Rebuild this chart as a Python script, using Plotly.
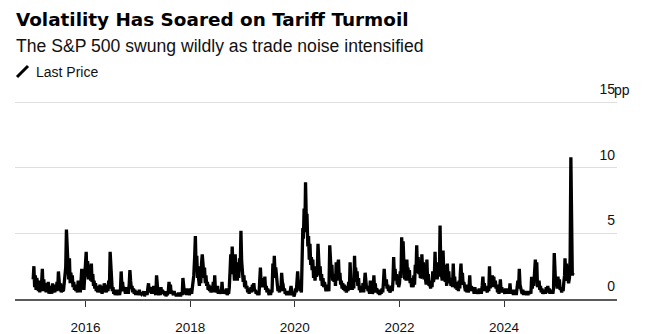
import pandas as pd
import plotly.graph_objects as go

# Values: S&P 500 swing (pp), ~6 readings per month
day_offsets = [0, 5, 10, 15, 20, 25]

v2015 = [1.5, 2.5, 0.9, 1.8, 0.7, 1.6,  1.2, 0.6, 1.4, 0.5, 1.0, 0.6,  1.3, 2.3, 0.7, 1.5, 0.6, 1.2,
         0.5, 1.1, 0.6, 1.3, 0.4, 0.9,  0.6, 1.0, 0.4, 1.2, 0.5, 0.8,  0.5, 1.1, 0.6, 1.3, 0.7, 2.1,
         1.4, 0.6, 1.2, 0.5, 0.9, 0.6,  0.7, 1.2, 1.6, 2.4, 5.3, 3.2,  2.6, 1.5, 3.1, 1.2, 2.0, 1.4,
         1.8, 0.9, 1.3, 0.7, 1.1, 0.6,  0.9, 0.5, 1.4, 0.6, 1.0, 0.5,  1.2, 2.3, 0.9, 1.8, 0.7, 1.6]
v2016 = [2.4, 3.6, 1.7, 2.9, 1.5, 2.6,  2.2, 1.4, 2.7, 1.3, 1.9, 1.0,  1.4, 0.8, 1.2, 0.6, 1.0, 0.5,
         0.9, 0.5, 1.1, 0.6, 0.8, 0.4,  1.0, 0.5, 1.2, 0.6, 0.9, 0.5,  1.1, 0.6, 1.4, 0.8, 3.6, 2.2,
         1.2, 0.6, 0.9, 0.4, 0.7, 0.3,  0.6, 0.3, 0.7, 0.3, 0.5, 0.3,  0.7, 2.1, 1.0, 1.3, 0.6, 0.9,
         0.7, 0.4, 0.9, 0.5, 0.8, 0.4,  1.1, 2.2, 1.4, 0.8, 1.0, 0.5,  0.8, 0.4, 0.7, 0.3, 0.6, 0.3]
v2017 = [0.6, 0.3, 0.7, 0.3, 0.5, 0.4,  0.5, 0.3, 0.6, 0.2, 0.5, 0.3,  0.6, 0.3, 0.8, 1.2, 0.5, 0.9,
         0.7, 0.4, 0.9, 0.5, 1.0, 0.4,  0.5, 0.3, 1.8, 0.6, 0.5, 0.3,  0.6, 0.3, 0.9, 0.4, 0.7, 0.5,
         0.5, 0.3, 0.6, 0.2, 0.5, 0.3,  0.6, 1.3, 0.7, 1.1, 0.4, 0.6,  0.5, 0.3, 0.6, 0.3, 0.4, 0.2,
         0.4, 0.2, 0.5, 0.3, 0.4, 0.2,  0.5, 0.3, 1.6, 0.6, 0.5, 0.4,  0.6, 0.3, 0.8, 0.4, 0.5, 0.3]
v2018 = [0.5, 0.8, 0.4, 0.9, 1.3, 1.8,  3.2, 4.8, 2.4, 3.3, 1.6, 2.5,  1.5, 1.0, 2.0, 1.2, 2.7, 3.4,
         2.6, 1.6, 2.4, 1.2, 1.8, 1.0,  1.3, 0.7, 1.1, 0.6, 0.9, 0.5,  1.0, 0.6, 1.3, 0.5, 1.8, 0.7,
         0.8, 0.5, 1.0, 0.4, 0.7, 0.4,  0.6, 0.4, 1.3, 0.5, 0.7, 0.4,  0.6, 0.4, 0.8, 0.3, 0.5, 0.4,
         0.9, 2.1, 3.4, 1.9, 4.0, 2.6,  2.3, 1.4, 3.4, 1.7, 2.5, 1.4,  2.8, 1.6, 3.1, 2.2, 5.2, 2.9]
v2019 = [2.0, 1.3, 1.8, 0.9, 1.4, 0.8,  1.0, 0.5, 0.8, 0.4, 0.7, 0.5,  0.9, 0.5, 1.1, 0.6, 1.2, 0.6,
         0.7, 0.4, 0.6, 0.3, 0.5, 0.3,  1.4, 2.4, 1.2, 1.6, 0.9, 1.3,  1.0, 1.7, 0.7, 1.0, 0.5, 0.8,
         0.5, 0.3, 0.6, 0.3, 0.7, 0.5,  2.7, 1.6, 3.3, 1.9, 2.4, 1.3,  1.1, 0.6, 0.9, 0.5, 1.0, 0.6,
         2.0, 1.3, 1.1, 0.6, 0.8, 0.4,  0.5, 0.3, 0.6, 0.3, 0.5, 0.3,  0.7, 1.0, 0.5, 0.3, 0.4, 0.2]
v2020 = [0.4, 0.8, 0.5, 1.1, 2.1, 1.2,  1.4, 0.6, 0.9, 0.5, 2.4, 5.4,  4.6, 6.9, 5.1, 8.9, 6.2, 6.5,
         4.0, 4.8, 3.0, 4.2, 2.6, 3.2,  2.2, 3.0, 1.6, 2.5, 1.4, 1.9,  1.7, 2.2, 4.2, 2.6, 1.8, 2.5,
         1.4, 1.9, 1.0, 1.6, 0.9, 1.3,  1.0, 0.6, 1.1, 0.7, 0.9, 0.6,  4.1, 2.8, 2.0, 2.6, 1.4, 1.9,
         1.3, 1.8, 1.0, 2.8, 1.4, 2.6,  3.0, 1.6, 2.0, 1.1, 1.4, 0.8,  1.2, 0.7, 1.1, 0.6, 0.9, 0.5]
v2021 = [1.0, 0.6, 1.3, 0.7, 2.8, 1.4,  1.2, 0.7, 1.4, 0.8, 3.3, 1.5,  2.4, 1.3, 2.1, 1.0, 1.6, 0.8,
         0.8, 0.5, 1.0, 0.6, 1.2, 0.5,  1.2, 2.0, 1.4, 0.8, 1.0, 0.6,  0.7, 0.4, 1.4, 0.6, 0.8, 0.4,
         0.6, 1.8, 0.7, 1.2, 0.5, 0.8,  0.6, 0.4, 0.7, 0.3, 0.6, 0.4,  0.8, 0.5, 1.3, 2.3, 1.4, 1.0,
         1.5, 0.8, 1.1, 0.6, 0.8, 0.5,  0.7, 1.0, 0.6, 1.3, 3.2, 1.8,  2.3, 1.4, 1.9, 1.1, 1.6, 0.9]
v2022 = [1.2, 2.1, 1.6, 4.7, 2.5, 4.4,  2.6, 1.5, 2.7, 1.4, 3.0, 1.8,  2.4, 1.4, 2.2, 1.2, 1.6, 0.9,
         1.3, 0.9, 1.8, 1.1, 2.6, 2.0,  4.1, 2.3, 3.2, 1.9, 2.8, 1.6,  1.7, 3.4, 2.2, 2.8, 1.5, 2.0,
         1.6, 1.1, 3.0, 1.4, 1.9, 1.0,  1.2, 0.8, 1.4, 0.9, 2.1, 1.3,  1.8, 3.6, 1.7, 2.4, 1.5, 2.2,
         2.8, 1.7, 5.6, 2.3, 2.0, 1.4,  3.7, 2.0, 2.6, 1.3, 1.8, 1.0,  2.7, 1.4, 2.1, 1.2, 1.6, 1.0]
v2023 = [1.6, 0.9, 2.7, 1.2, 1.7, 0.8,  1.3, 0.7, 1.1, 0.6, 1.4, 0.8,  1.9, 2.7, 1.4, 2.0, 1.1, 1.3,
         0.9, 0.6, 1.1, 0.5, 0.8, 0.5,  0.8, 1.8, 0.7, 1.0, 0.6, 0.9,  0.7, 0.4, 0.9, 0.5, 0.7, 0.4,
         0.6, 0.4, 0.8, 0.5, 0.7, 0.4,  1.0, 1.7, 0.8, 1.2, 0.6, 0.9,  0.7, 0.5, 1.0, 0.6, 2.5, 0.8,
         1.6, 1.2, 1.8, 0.9, 1.7, 1.0,  1.4, 0.8, 1.1, 0.5, 0.7, 0.4,  0.8, 1.5, 0.6, 0.9, 0.5, 0.7]
v2024 = [0.6, 0.4, 0.8, 0.4, 0.7, 0.5,  0.8, 0.4, 1.2, 0.5, 0.7, 0.4,  0.6, 0.3, 0.7, 0.4, 0.6, 0.3,
         0.9, 1.4, 0.8, 2.3, 1.1, 0.7,  0.6, 0.4, 0.7, 0.3, 0.6, 0.4,  0.5, 0.3, 0.6, 0.3, 0.5, 0.4,
         0.6, 0.4, 1.7, 0.8, 1.5, 1.0,  1.8, 3.0, 1.4, 2.8, 0.9, 1.1,  1.4, 0.7, 1.0, 0.5, 0.8, 0.4,
         0.6, 0.4, 0.7, 0.4, 0.9, 0.5,  1.0, 0.6, 0.8, 0.4, 0.7, 0.5,  0.7, 0.4, 0.8, 3.5, 1.2, 1.0]
v2025 = [1.3, 0.8, 1.7, 0.9, 1.5, 0.7,  0.8, 0.5, 0.9, 0.6, 1.3, 1.8,  3.1, 1.9, 2.7, 1.4, 1.7, 1.2,
         1.6, 3.2, 10.8, 2.5, 1.8, 2.0]

years = [2015, 2016, 2017, 2018, 2019, 2020, 2021, 2022, 2023, 2024, 2025]
yearly_values = [v2015, v2016, v2017, v2018, v2019, v2020, v2021, v2022, v2023, v2024, v2025]

y_ticks = [0, 5, 10, 15]
y_tick_labels = ["0", "5", "10", "15"]

dates, values = [], []
for yr, vals in zip(years, yearly_values):
    for i, v in enumerate(vals):
        month = i // 6 + 1
        dates.append(pd.Timestamp(yr, month, 1) + pd.Timedelta(days=day_offsets[i % 6]))
        values.append(v)

FONT = "Liberation Sans"

fig = go.Figure()
fig.add_trace(go.Scatter(x=dates, y=values, mode="lines", name="Last Price",
                         line=dict(color="#000000", width=3.3), showlegend=False))

# plot area geometry (px); y range extends above the 15 gridline so its label fits
L, R, T, B = 15, 33, 76, 35
W, H = 650, 334
pw, ph = W - L - R, H - T - B


def px_x(px):
    return (px - L) / pw


def px_y(py):
    return (H - B - py) / ph


fig.update_layout(
    width=W, height=H,
    margin=dict(l=L, r=R, t=T, b=B, pad=0, autoexpand=False),
    paper_bgcolor="white", plot_bgcolor="white",
    font=dict(family=FONT, color="#000000"),
    xaxis=dict(
        type="date", automargin=False,
        range=["2014-08-27", "2026-02-27"],
        tick0="2016-01-01", dtick="M24", tickformat="%Y",
        showgrid=False, zeroline=False,
        showline=True, linecolor="#5a5a5a", linewidth=1.5,
        ticks="outside", ticklen=6, tickcolor="#333333", tickwidth=1,
        ticklabelstandoff=9,
        tickfont=dict(size=13.5, color="#111111", family=FONT),
    ),
    yaxis=dict(
        range=[0, 17], side="right", automargin=False,
        tickvals=y_ticks, ticktext=y_tick_labels,
        ticklabelposition="inside", ticklabelshift=-13, ticklabelstandoff=-1,
        showgrid=True, gridcolor="#dedede", gridwidth=1,
        zeroline=False, showline=False, ticks="",
        tickfont=dict(size=14, color="#111111", family=FONT),
    ),
    annotations=[
        dict(text="<b>Volatility Has Soared on Tariff Turmoil</b>", xref="paper", yref="paper",
             x=px_x(14), y=px_y(20), xanchor="left", yanchor="middle", showarrow=False,
             font=dict(size=18.4, family="DejaVu Sans", color="#000000")),
        dict(text="The S&P 500 swung wildly as trade noise intensified", xref="paper", yref="paper",
             x=px_x(14), y=px_y(46), xanchor="left", yanchor="middle", showarrow=False,
             font=dict(size=17.6, family=FONT, color="#111111")),
        dict(text="Last Price", xref="paper", yref="paper",
             x=px_x(34), y=px_y(72), xanchor="left", yanchor="middle", showarrow=False,
             font=dict(size=14, family=FONT, color="#111111")),
        dict(text="pp", xref="paper", yref="y",
             x=px_x(612), y=15, yshift=12, xanchor="left", yanchor="middle", showarrow=False,
             font=dict(size=14, family=FONT, color="#111111")),
    ],
    shapes=[
        dict(type="line", xref="paper", yref="paper",
             x0=px_x(17), y0=px_y(77), x1=px_x(28), y1=px_y(66),
             line=dict(color="#000000", width=3)),
    ],
)

fig.write_html("out.html")
